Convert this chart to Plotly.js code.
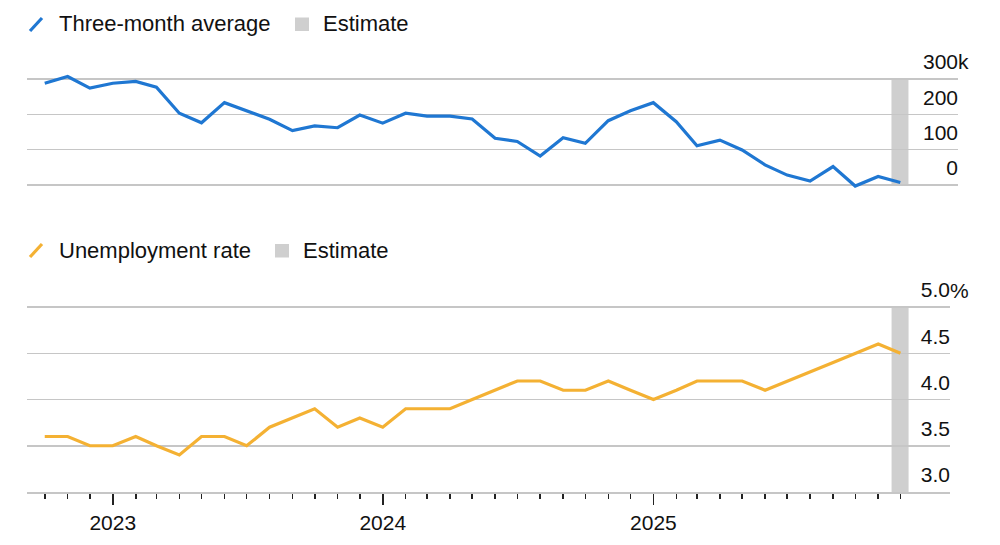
<!DOCTYPE html>
<html>
<head>
<meta charset="utf-8">
<script src="https://cdn.plot.ly/plotly-3.0.1.min.js"></script>
<style>
  html, body { margin: 0; padding: 0; background: #ffffff; }
  #chart { width: 1000px; height: 545px; }
</style>
</head>
<body>
<div id="chart"></div>
<script>
// ---- data ----
const months = [
  '2022-10-01','2022-11-01','2022-12-01',
  '2023-01-01','2023-02-01','2023-03-01','2023-04-01','2023-05-01','2023-06-01',
  '2023-07-01','2023-08-01','2023-09-01','2023-10-01','2023-11-01','2023-12-01',
  '2024-01-01','2024-02-01','2024-03-01','2024-04-01','2024-05-01','2024-06-01',
  '2024-07-01','2024-08-01','2024-09-01','2024-10-01','2024-11-01','2024-12-01',
  '2025-01-01','2025-02-01','2025-03-01','2025-04-01','2025-05-01','2025-06-01',
  '2025-07-01','2025-08-01','2025-09-01','2025-10-01','2025-11-01','2025-12-01'
];
// Payrolls, three-month average (thousands)
const payrollAvg = [
  288, 307, 274,
  288, 293, 277, 203, 176, 233,
  210, 186, 154, 167, 162, 198,
  175, 203, 195, 195, 187, 132,
  123, 82, 134, 118, 182, 210,
  233, 179, 111, 127, 99, 57,
  28, 11, 52, -3, 24, 7
];
// Unemployment rate (%), October 2025 not published
const unemploymentRate = [
  3.6, 3.6, 3.5,
  3.5, 3.6, 3.5, 3.4, 3.6, 3.6,
  3.5, 3.7, 3.8, 3.9, 3.7, 3.8,
  3.7, 3.9, 3.9, 3.9, 4.0, 4.1,
  4.2, 4.2, 4.1, 4.1, 4.2, 4.1,
  4.0, 4.1, 4.2, 4.2, 4.2, 4.1,
  4.2, 4.3, 4.4, null, 4.6, 4.5
];
const estimateStart = '2025-11-19';
const estimateEnd = '2025-12-12';

const payrollTicks = [0, 100, 200, 300];
const payrollTickText = ['0', '100', '200', '300'];
const rateTicks = [3.0, 3.5, 4.0, 4.5, 5.0];
const rateTickText = ['3.0', '3.5', '4.0', '4.5', '5.0'];
const yearTicks = ['2023-01-01', '2024-01-01', '2025-01-01'];
const yearTickText = ['2023', '2024', '2025'];

const legendTop = ['Three-month average', 'Estimate'];
const legendBottom = ['Unemployment rate', 'Estimate'];

// ---- styles ----
const BLUE = '#1f77d2';
const YELLOW = '#f4b133';
const BAND = '#cfcfcf';
const GRID = '#c6c6c6';
const INK = '#111111';
const FONT = 'Liberation Sans, Arial, Helvetica, sans-serif';

const traces = [
  {
    x: months, y: payrollAvg, xaxis: 'x2', yaxis: 'y2',
    type: 'scatter', mode: 'lines',
    line: { color: BLUE, width: 3.2 },
    hoverinfo: 'skip', showlegend: false
  },
  {
    x: months, y: unemploymentRate, xaxis: 'x', yaxis: 'y',
    type: 'scatter', mode: 'lines', connectgaps: true,
    line: { color: YELLOW, width: 3.2 },
    hoverinfo: 'skip', showlegend: false
  }
];

function px(x) { return x / 1000; }
function py(y) { return 1 - y / 545; }

const layout = {
  width: 1000, height: 545,
  margin: { l: 0, r: 0, t: 0, b: 0 },
  paper_bgcolor: '#ffffff', plot_bgcolor: 'rgba(0,0,0,0)',
  font: { family: FONT, color: INK, size: 21 },
  showlegend: false,
  xaxis: {
    domain: [px(27), px(950)],
    anchor: 'y',
    type: 'date',
    range: ['2022-09-07', '2026-02-06'],
    showgrid: false, zeroline: false,
    showline: true, linecolor: GRID, linewidth: 1.5,
    tickmode: 'array', tickvals: yearTicks, ticktext: yearTickText,
    ticks: 'outside', ticklen: 11, tickwidth: 1.6, tickcolor: '#222222',
    tickfont: { family: FONT, size: 21, color: INK },
    minor: {
      tickmode: 'array', tickvals: months,
      ticks: 'outside', ticklen: 5, tickwidth: 1.6, tickcolor: '#222222',
      showgrid: false
    },
    fixedrange: true
  },
  yaxis: {
    domain: [py(492), py(251.5)],
    anchor: 'x',
    range: [3.0, 5.6],
    side: 'right',
    tickmode: 'array', tickvals: rateTicks, ticktext: rateTickText,
    showgrid: true, gridcolor: GRID, gridwidth: 1.5,
    zeroline: false, showline: false,
    ticks: '', ticklabelposition: 'inside', ticklabelshift: -17, ticklabelstandoff: -3,
    tickfont: { family: FONT, size: 21, color: INK },
    fixedrange: true
  },
  xaxis2: {
    domain: [px(27), px(958)],
    anchor: 'y2',
    type: 'date',
    range: ['2022-09-07', '2026-02-17'],
    showgrid: false, zeroline: false, showline: false,
    showticklabels: false, ticks: '',
    fixedrange: true
  },
  yaxis2: {
    domain: [py(188.5), py(36.6)],
    anchor: 'x2',
    range: [-10, 420],
    side: 'right',
    tickmode: 'array', tickvals: payrollTicks, ticktext: payrollTickText,
    showgrid: true, gridcolor: GRID, gridwidth: 1.5,
    zeroline: false, showline: false,
    ticks: '', ticklabelposition: 'inside', ticklabelshift: -17, ticklabelstandoff: -3,
    tickfont: { family: FONT, size: 21, color: INK },
    fixedrange: true
  },
  shapes: [
    { type: 'rect', layer: 'below', xref: 'x2', yref: 'y2',
      x0: estimateStart, x1: estimateEnd, y0: 0, y1: 300,
      fillcolor: BAND, line: { width: 0 } },
    { type: 'rect', layer: 'below', xref: 'x', yref: 'y',
      x0: estimateStart, x1: estimateEnd, y0: 3.0, y1: 5.0,
      fillcolor: BAND, line: { width: 0 } },
    // legend icons
    { type: 'line', xref: 'paper', yref: 'paper',
      x0: px(30), y0: py(31), x1: px(42), y1: py(18),
      line: { color: BLUE, width: 3.2 } },
    { type: 'rect', xref: 'paper', yref: 'paper',
      x0: px(295), y0: py(31), x1: px(309), y1: py(17.5),
      fillcolor: BAND, line: { width: 0 } },
    { type: 'line', xref: 'paper', yref: 'paper',
      x0: px(30), y0: py(257), x1: px(42), y1: py(244),
      line: { color: YELLOW, width: 3.2 } },
    { type: 'rect', xref: 'paper', yref: 'paper',
      x0: px(275), y0: py(257.5), x1: px(289), y1: py(244),
      fillcolor: BAND, line: { width: 0 } }
  ],
  annotations: [
    { text: legendTop[0], xref: 'paper', yref: 'paper', x: px(57), y: py(23),
      xanchor: 'left', yanchor: 'middle', showarrow: false,
      font: { family: FONT, size: 22, color: INK } },
    { text: legendTop[1], xref: 'paper', yref: 'paper', x: px(321), y: py(23),
      xanchor: 'left', yanchor: 'middle', showarrow: false,
      font: { family: FONT, size: 22, color: INK } },
    { text: legendBottom[0], xref: 'paper', yref: 'paper', x: px(57), y: py(250),
      xanchor: 'left', yanchor: 'middle', showarrow: false,
      font: { family: FONT, size: 22, color: INK } },
    { text: legendBottom[1], xref: 'paper', yref: 'paper', x: px(301), y: py(250),
      xanchor: 'left', yanchor: 'middle', showarrow: false,
      font: { family: FONT, size: 22, color: INK } },
    // unit suffixes hanging right of the top tick labels
    { text: 'k', xref: 'paper', yref: 'y2', x: px(956), y: 300, yshift: 17,
      xanchor: 'left', yanchor: 'middle', showarrow: false,
      font: { family: FONT, size: 21, color: INK } },
    { text: '%', xref: 'paper', yref: 'y', x: px(948), y: 5.0, yshift: 17,
      xanchor: 'left', yanchor: 'middle', showarrow: false,
      font: { family: FONT, size: 21, color: INK } }
  ]
};

Plotly.newPlot('chart', traces, layout, { staticPlot: true, displayModeBar: false });
</script>
</body>
</html>
